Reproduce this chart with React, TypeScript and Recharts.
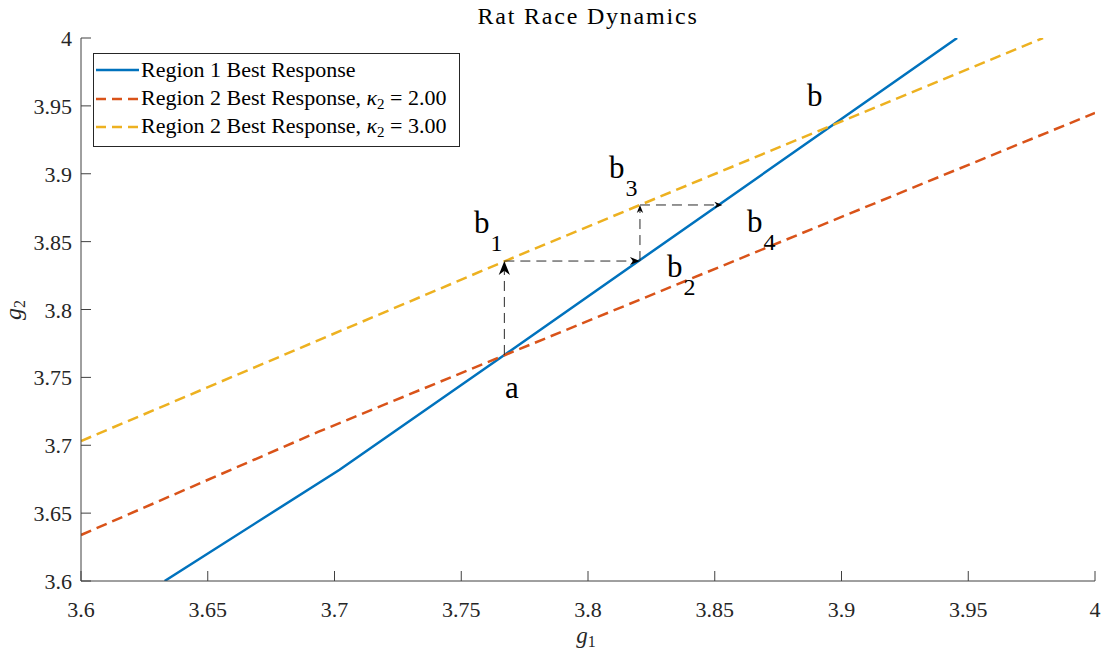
import React from 'react';
import { ComposedChart, Line, XAxis, YAxis, Scatter, ReferenceLine, Legend } from 'recharts';

// ---- data ----
const xTicks = [3.6, 3.65, 3.7, 3.75, 3.8, 3.85, 3.9, 3.95, 4];
const xTickLabels = ['3.6', '3.65', '3.7', '3.75', '3.8', '3.85', '3.9', '3.95', '4'];
const yTicks = [3.6, 3.65, 3.7, 3.75, 3.8, 3.85, 3.9, 3.95, 4];
const yTickLabels = ['3.6', '3.65', '3.7', '3.75', '3.8', '3.85', '3.9', '3.95', '4'];

const region1 = [
  { x: 3.633, y: 3.6 },
  { x: 3.702, y: 3.682 },
  { x: 3.767, y: 3.7665 },
  { x: 3.9456, y: 4.0 },
];
const region2k2 = [
  { x: 3.6, y: 3.6339 },
  { x: 3.6935, y: 3.7098 },
  { x: 3.7673, y: 3.7665 },
  { x: 4.0, y: 3.9448 },
];
const region2k3 = [
  { x: 3.6, y: 3.7031 },
  { x: 3.7673, y: 3.8357 },
  { x: 3.8205, y: 3.877 },
  { x: 3.9795, y: 4.0 },
];

const arrowSegments = [
  { x1: 3.767, y1: 3.7665, x2: 3.767, y2: 3.8357 },
  { x1: 3.767, y1: 3.8357, x2: 3.8205, y2: 3.8357 },
  { x1: 3.8205, y1: 3.8357, x2: 3.8205, y2: 3.877 },
  { x1: 3.8205, y1: 3.877, x2: 3.853, y2: 3.877 },
];

const pointLabels = [
  { x: 3.7673, y: 3.7348, base: 'a', sub: '' },
  { x: 3.755, y: 3.8564, base: 'b', sub: '1' },
  { x: 3.8312, y: 3.8239, base: 'b', sub: '2' },
  { x: 3.8083, y: 3.8969, base: 'b', sub: '3' },
  { x: 3.8627, y: 3.8571, base: 'b', sub: '4' },
  { x: 3.8864, y: 3.9499, base: 'b', sub: '' },
];

const seriesNames = [
  'Region 1 Best Response',
  'Region 2 Best Response, ',
  'Region 2 Best Response, ',
];
const kappaValues = ['', '2.00', '3.00'];

// ---- styles ----
const BLUE = '#0072BD';
const RED = '#D95319';
const YELLOW = '#EDB120';
const AXIS = '#404040';
const TEXT = '#262626';
const SERIF = "'Liberation Serif', 'Times New Roman', serif";
const arrowHeadSizes = [14, 10, 8, 8];

const XTick = (props: any) => {
  const { x, y, payload, index } = props;
  return (
    <g>
      <line x1={x} y1={y} x2={x} y2={y - 10} stroke={AXIS} strokeWidth={1} />
      <text x={x} y={y + 36} textAnchor="middle" style={{ fontFamily: SERIF, fontSize: 22 }} fill={TEXT}>
        {xTickLabels[index] ?? String(payload.value)}
      </text>
    </g>
  );
};

const YTick = (props: any) => {
  const { x, y, payload, index } = props;
  return (
    <g>
      <line x1={x} y1={y} x2={x + 10} y2={y} stroke={AXIS} strokeWidth={1} />
      <text x={x - 9} y={y + 8} textAnchor="end" style={{ fontFamily: SERIF, fontSize: 22 }} fill={TEXT}>
        {yTickLabels[index] ?? String(payload.value)}
      </text>
    </g>
  );
};

function makeArrow(head: number) {
  return (props: any) => {
    const { x1, y1, x2, y2 } = props;
    const dx = x2 - x1;
    const dy = y2 - y1;
    const len = Math.hypot(dx, dy) || 1;
    const ux = dx / len;
    const uy = dy / len;
    const px = -uy;
    const py = ux;
    const w = head * 0.4;
    const bx = x2 - ux * head;
    const by = y2 - uy * head;
    const mx = x2 - ux * head * 0.7;
    const my = y2 - uy * head * 0.7;
    const d = `M${x2},${y2} L${bx + px * w},${by + py * w} L${mx},${my} L${bx - px * w},${by - py * w} Z`;
    return (
      <g>
        <line x1={x1} y1={y1} x2={mx} y2={my} stroke="#2a2a2a" strokeWidth={1} strokeDasharray="10 6" />
        <path d={d} fill="#000" />
      </g>
    );
  };
}

const LabelShape = (props: any) => {
  const { cx, cy, payload } = props;
  return (
    <text x={cx} y={cy} style={{ fontFamily: SERIF, fontSize: 31 }} fill="#000">
      {payload.base}
      {payload.sub ? (
        <tspan dx={1} dy={18} style={{ fontSize: 24 }}>
          {payload.sub}
        </tspan>
      ) : null}
    </text>
  );
};

const legendStyles = [
  { color: BLUE, dash: undefined as string | undefined },
  { color: RED, dash: '10 6' },
  { color: YELLOW, dash: '10 6' },
];

const LegendBox = () => (
  <div
    style={{
      width: 365,
      border: '1px solid #262626',
      background: '#fff',
      padding: '2px 0 4px 0',
      fontFamily: SERIF,
      fontSize: 22,
      color: '#000',
      boxSizing: 'content-box',
    }}
  >
    {seriesNames.map((name, i) => (
      <div key={i} style={{ height: 28.5, display: 'flex', alignItems: 'center', whiteSpace: 'nowrap' }}>
        <svg width={46} height={10} style={{ marginLeft: 1, flex: 'none' }}>
          <line
            x1={1}
            y1={5}
            x2={44}
            y2={5}
            stroke={legendStyles[i].color}
            strokeWidth={2.5}
            strokeDasharray={legendStyles[i].dash}
          />
        </svg>
        <span style={{ lineHeight: '28px' }}>
          {name}
          {kappaValues[i] ? (
            <>
              <i>κ</i>
              <span style={{ fontSize: 15, position: 'relative', top: 4 }}>2</span>
              {' = ' + kappaValues[i]}
            </>
          ) : null}
        </span>
      </div>
    ))}
  </div>
);

export default function App() {
  return (
    <div style={{ position: 'absolute', left: 0, top: 0, background: '#fff' }}>
      <ComposedChart width={1106} height={660} margin={{ top: 38, right: 11, bottom: 39, left: 0 }}>
        <XAxis
          dataKey="x"
          type="number"
          domain={[3.6, 4]}
          ticks={xTicks}
          allowDataOverflow
          height={40}
          axisLine={{ stroke: AXIS, strokeWidth: 1 }}
          tickLine={false}
          tickSize={0}
          tickMargin={0}
          tick={<XTick />}
          interval={0}
        />
        <YAxis
          dataKey="y"
          type="number"
          domain={[3.6, 4]}
          ticks={yTicks}
          allowDataOverflow
          width={81}
          axisLine={{ stroke: AXIS, strokeWidth: 1 }}
          tickLine={false}
          tickSize={0}
          tickMargin={0}
          tick={<YTick />}
          interval={0}
        />
        <Legend
          layout="vertical"
          verticalAlign="middle"
          align="center"
          wrapperStyle={{ left: 93, top: 53, width: 367 }}
          content={() => <LegendBox />}
        />
        <Line
          data={region1}
          dataKey="y"
          name={seriesNames[0]}
          type="linear"
          stroke={BLUE}
          strokeWidth={2.5}
          dot={false}
          activeDot={false}
          isAnimationActive={false}
        />
        <Line
          data={region2k2}
          dataKey="y"
          name={seriesNames[1] + 'κ2 = ' + kappaValues[1]}
          type="linear"
          stroke={RED}
          strokeWidth={2.5}
          strokeDasharray="11 6"
          dot={false}
          activeDot={false}
          isAnimationActive={false}
        />
        <Line
          data={region2k3}
          dataKey="y"
          name={seriesNames[2] + 'κ2 = ' + kappaValues[2]}
          type="linear"
          stroke={YELLOW}
          strokeWidth={2.5}
          strokeDasharray="11 6"
          dot={false}
          activeDot={false}
          isAnimationActive={false}
        />
        {arrowSegments.map((s, i) => (
          <ReferenceLine
            key={i}
            segment={[
              { x: s.x1, y: s.y1 },
              { x: s.x2, y: s.y2 },
            ]}
            shape={makeArrow(arrowHeadSizes[i])}
            ifOverflow="visible"
          />
        ))}
        <Scatter data={pointLabels} dataKey="y" shape={<LabelShape />} isAnimationActive={false} legendType="none" />
        <text x={588} y={24} textAnchor="middle" style={{ fontFamily: SERIF, fontSize: 24, letterSpacing: 1.8 }} fill="#000">
          Rat Race Dynamics
        </text>
        <text x={586} y={643} textAnchor="middle" style={{ fontFamily: SERIF, fontSize: 23 }} fill={TEXT}>
          <tspan fontStyle="italic">g</tspan>
          <tspan style={{ fontSize: 16 }} dy={4}>1</tspan>
        </text>
        <text
          x={21}
          y={310}
          textAnchor="middle"
          style={{ fontFamily: SERIF, fontSize: 24 }}
          fill={TEXT}
          transform="rotate(-90 21 310)"
        >
          <tspan fontStyle="italic">g</tspan>
          <tspan style={{ fontSize: 16 }} dy={4}>2</tspan>
        </text>
      </ComposedChart>
    </div>
  );
}
